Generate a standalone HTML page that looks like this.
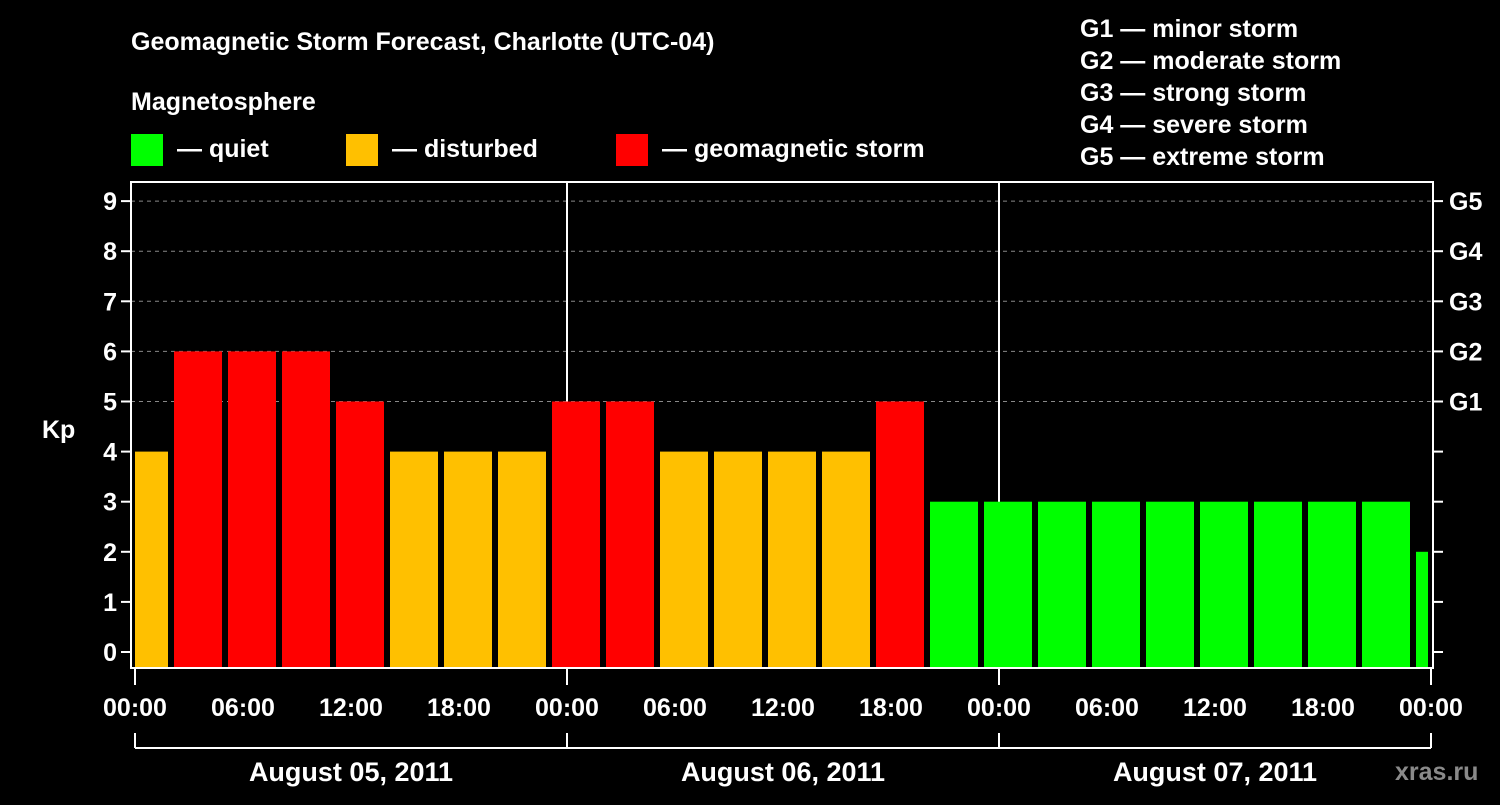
<!DOCTYPE html>
<html><head><meta charset="utf-8"><style>
html,body{margin:0;padding:0;background:#000;}
svg text{font-family:"Liberation Sans",sans-serif;font-weight:bold;fill:#fff;}
</style></head><body>
<svg id="chart" width="1500" height="800" xmlns="http://www.w3.org/2000/svg">
<rect width="1500" height="800" fill="#000"/>
<text x="131" y="50" font-size="25">Geomagnetic Storm Forecast, Charlotte (UTC-04)</text>
<text x="131" y="110" font-size="25">Magnetosphere</text>
<g>
<rect x="131" y="134" width="32" height="32" fill="#00ff00"/>
<text x="177" y="157" font-size="25">— quiet</text>
<rect x="346" y="134" width="32" height="32" fill="#ffc000"/>
<text x="392" y="157" font-size="25">— disturbed</text>
<rect x="616" y="134" width="32" height="32" fill="#ff0000"/>
<text x="662" y="157" font-size="25">— geomagnetic storm</text>
</g>
<g font-size="25">
<text x="1080" y="37">G1 — minor storm</text>
<text x="1080" y="69">G2 — moderate storm</text>
<text x="1080" y="101">G3 — strong storm</text>
<text x="1080" y="133">G4 — severe storm</text>
<text x="1080" y="165">G5 — extreme storm</text>
</g>
<text x="42" y="438" font-size="25">Kp</text>
<text x="1395" y="780" font-size="25" fill="#888" style="fill:#8a8a8a">xras.ru</text>
<g id="grid"></g>
<g id="bars"></g>
<g id="axes"></g>
</svg>
<script>
const kpValues = [4,6,6,6,5,4,4,4,5,5,4,4,4,4,5,3,3,3,3,3,3,3,3,3,2];
const yTicks = [0,1,2,3,4,5,6,7,8,9];
const gLabels = ["G1","G2","G3","G4","G5"];
const gLevels = [5,6,7,8,9];
const xTickLabels = ["00:00","06:00","12:00","18:00","00:00","06:00","12:00","18:00","00:00","06:00","12:00","18:00","00:00"];
const dayLabels = ["August 05, 2011","August 06, 2011","August 07, 2011"];

const NS="http://www.w3.org/2000/svg";
const X0=135, PXH=18, Y0=652, PXK=50.1;
const xs=h=>X0+h*PXH;
const ys=k=>Y0-k*PXK;
const L=131,R=1433,T=182,B=668;
function mk(tag,attrs,parent){const e=document.createElementNS(NS,tag);for(const k in attrs)e.setAttribute(k,attrs[k]);document.getElementById(parent).appendChild(e);return e;}
function color(k){return k>=5?"#ff0000":(k>=4?"#ffc000":"#00ff00");}

// grid lines
yTicks.forEach(k=>{if(k>=5){const l=mk("line",{x1:L,x2:R,y1:ys(k),y2:ys(k),stroke:"#888","stroke-dasharray":"4,4","stroke-width":1},"grid");

}});
[1,2].forEach(d=>{const l=mk("line",{x1:xs(d*24),x2:xs(d*24),y1:T,y2:B,stroke:"#fff","stroke-width":2},"grid");

});

// bars
kpValues.forEach((v,i)=>{
 let x1=xs(i*3-1)+3, x2=xs(i*3+2)-3;
 x1=Math.max(x1,X0); x2=Math.min(x2,xs(72)-3);
 const r=mk("rect",{x:x1,y:ys(v),width:x2-x1,height:Y0+15-ys(v),fill:color(v)},"bars");
 
 
});

// frame
const f=mk("rect",{x:L,y:T,width:R-L,height:B-T,fill:"none",stroke:"#fff","stroke-width":2},"axes");


yTicks.forEach(k=>{
 mk("line",{x1:L-10,x2:L,y1:ys(k),y2:ys(k),stroke:"#fff","stroke-width":2},"axes");
 mk("line",{x1:R,x2:R+10,y1:ys(k),y2:ys(k),stroke:"#fff","stroke-width":2},"axes");
 const t=mk("text",{x:L-14,y:ys(k)+9,"font-size":25,"text-anchor":"end"},"axes");t.textContent=k;
 
 
});
gLevels.forEach((k,i)=>{const t=mk("text",{x:1449,y:ys(k)+9,"font-size":25},"axes");t.textContent=gLabels[i];
 
 });
xTickLabels.forEach((s,i)=>{
 const x=xs(i*6);
 if(i%4==0) mk("line",{x1:x,x2:x,y1:B,y2:685,stroke:"#fff","stroke-width":2},"axes");
 const t=mk("text",{x:x,y:716,"font-size":25,"text-anchor":"middle"},"axes");t.textContent=s;
 
 
});
mk("line",{x1:xs(0),x2:xs(72),y1:748,y2:748,stroke:"#fff","stroke-width":2},"axes");
[0,24,48,72].forEach(h=>mk("line",{x1:xs(h),x2:xs(h),y1:733,y2:748,stroke:"#fff","stroke-width":2},"axes"));
dayLabels.forEach((s,i)=>{const t=mk("text",{x:xs(i*24+12),y:781,"font-size":27,"text-anchor":"middle"},"axes");t.textContent=s;
 
 });
</script>
</body></html>
